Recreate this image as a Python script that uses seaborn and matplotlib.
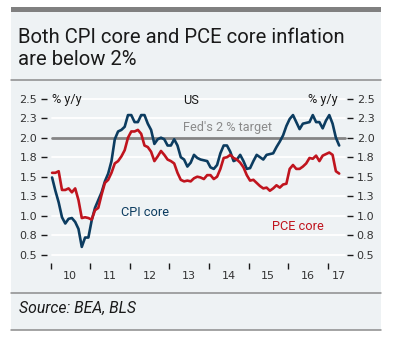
import numpy as np
import pandas as pd
import matplotlib
matplotlib.use("Agg")
import matplotlib.pyplot as plt
import seaborn as sns

# ---- data (monthly, Jan 2010 - Apr 2017) ----
start_month = "2010-01"
cpi_core = [1.49, 1.32, 1.17, 0.98, 0.90, 0.96, 0.97, 0.92, 0.83, 0.60, 0.72, 0.72,
            0.94, 1.10, 1.20, 1.30, 1.44, 1.54, 1.70, 1.98, 2.08, 2.10, 2.14, 2.29,
            2.29, 2.20, 2.20, 2.29, 2.29, 2.18, 2.10, 1.92, 1.98, 2.00, 1.98, 1.90,
            1.90, 1.98, 1.90, 1.75, 1.72, 1.63, 1.68, 1.78, 1.74, 1.72, 1.71, 1.70,
            1.62, 1.60, 1.65, 1.80, 1.90, 1.90, 1.82, 1.70, 1.72, 1.78, 1.70, 1.60,
            1.61, 1.70, 1.78, 1.75, 1.72, 1.78, 1.79, 1.80, 1.88, 1.95, 2.03, 2.15,
            2.24, 2.29, 2.20, 2.11, 2.18, 2.19, 2.20, 2.29, 2.20, 2.20, 2.12, 2.22,
            2.29, 2.18, 2.00, 1.90]
pce_core = [1.55, 1.55, 1.57, 1.33, 1.33, 1.35, 1.30, 1.35, 1.20, 0.97, 0.98, 0.97,
            0.95, 1.07, 1.10, 1.27, 1.42, 1.46, 1.55, 1.67, 1.70, 1.76, 1.84, 2.00,
            2.08, 2.08, 2.10, 2.05, 1.90, 1.88, 1.82, 1.70, 1.76, 1.83, 1.78, 1.72,
            1.70, 1.67, 1.55, 1.46, 1.44, 1.45, 1.44, 1.48, 1.50, 1.49, 1.47, 1.52,
            1.52, 1.47, 1.50, 1.60, 1.74, 1.75, 1.78, 1.74, 1.72, 1.68, 1.62, 1.52,
            1.45, 1.46, 1.42, 1.38, 1.35, 1.36, 1.32, 1.35, 1.39, 1.36, 1.40, 1.41,
            1.60, 1.65, 1.60, 1.60, 1.63, 1.67, 1.74, 1.73, 1.77, 1.70, 1.77, 1.79,
            1.81, 1.78, 1.57, 1.54]
target = 2.0
ytick_vals = [0.5, 0.75, 1.0, 1.25, 1.5, 1.75, 2.0, 2.25, 2.5]
ytick_labels = ["0.5", "0.8", "1.0", "1.3", "1.5", "1.8", "2.0", "2.3", "2.5"]
year_labels = ["10", "11", "12", "13", "14", "15", "16", "17"]
years = [2010, 2011, 2012, 2013, 2014, 2015, 2016, 2017]

title = "Both CPI core and PCE core inflation\nare below 2%"
source = "Source: BEA, BLS"

# ---- styling ----
BG = "#eef2f4"
NAVY = "#0c3c60"
RED = "#c0141e"
GREY = "#858585"
TXT = "#1a1a1a"

sns.set_theme(style="white")
plt.rcParams["font.family"] = ["Roboto", "DejaVu Sans"]

W, H = 397, 340
fig = plt.figure(figsize=(W / 100, H / 100), dpi=100)
fig.patch.set_facecolor("white")

def px(x, y):
    return x / W, 1 - y / H

from matplotlib.patches import Rectangle
fig.patches.append(Rectangle(px(11, 330), (381 - 11) / W, (330 - 12) / H,
                             transform=fig.transFigure, facecolor=BG, edgecolor="none", zorder=-5))
fig.patches.append(Rectangle(px(11, 12), (381 - 11) / W, 5 / H,
                             transform=fig.transFigure, facecolor="#808080", edgecolor="none", zorder=-4))
for yy in (80, 293, 330):
    fig.lines.append(plt.Line2D([11 / W, 381 / W], [1 - yy / H] * 2, transform=fig.transFigure,
                                color="#8c8c8c", lw=1.1, zorder=-4))

fig.text(18 / W, 1 - 48.5 / H, title, fontsize=14.6, color=TXT, ha="left", va="center",
         linespacing=1.2)
fig.text(19 / W, 1 - 308 / H, source, fontsize=11.3, style="italic", color=TXT,
         ha="left", va="center")

# axes
left, right, top, bottom = 47, 347, 92, 263
ax = fig.add_axes([left / W, 1 - bottom / H, (right - left) / W, (bottom - top) / H])
ax.set_facecolor("none")
ax.set_zorder(5)

px_per_year = 39.6
x0_px = 50.5  # pixel of 2010.0
xmin = 2010 + (left - x0_px) / px_per_year
xmax = 2010 + (right - x0_px) / px_per_year
px_per_unit = 78.0
y2_px = 137.7
ymax = 2.0 + (y2_px - top) / px_per_unit
ymin = 2.0 - (bottom - y2_px) / px_per_unit

dates = pd.date_range(start_month, periods=len(cpi_core), freq="MS")
t = dates.year + (dates.month - 1) / 12 + 0.04
df = pd.DataFrame({"t": np.concatenate([t, t]),
                   "v": cpi_core + pce_core,
                   "s": ["CPI core"] * len(cpi_core) + ["PCE core"] * len(pce_core)})

# gridlines (inset from axes edges)
g0 = (52 - left) / (right - left)
g1 = (345 - left) / (right - left)
for v in ytick_vals:
    if v != target:
        ax.axhline(v, xmin=g0, xmax=g1, color="white", lw=1.3, zorder=1)
ax.axhline(target, xmin=g0, xmax=g1, color=GREY, lw=2.0, zorder=2)

sns.lineplot(data=df, x="t", y="v", hue="s", palette={"CPI core": NAVY, "PCE core": RED},
             linewidth=1.9, legend=False, ax=ax, zorder=3)

ax.set_xlim(xmin, xmax)
ax.set_ylim(ymin, ymax)
ax.set_xlabel("")
ax.set_ylabel("")
for s in ax.spines.values():
    s.set_visible(False)

TICKFONT = "DejaVu Sans"
ax.set_yticks(ytick_vals)
ax.set_yticklabels(ytick_labels, fontfamily=TICKFONT)
ax.tick_params(axis="y", which="major", left=True, right=True, labelleft=True, labelright=True,
               direction="out", length=4, width=1, color=TXT, pad=3, labelsize=8,
               labelcolor="#333333")
for lab in ax.get_yticklabels(which="both") + ax.yaxis.get_ticklabels():
    lab.set_fontfamily(TICKFONT)
for tk in ax.yaxis.get_major_ticks():
    tk.label2.set_fontfamily(TICKFONT)

ax.set_xticks(years)
ax.set_xticklabels([])
ax.set_xticks([y + 0.5 for y in years[:-1]] + [2017.28], minor=True)
ax.set_xticklabels(year_labels, minor=True, fontfamily=TICKFONT)
ax.tick_params(axis="x", which="major", bottom=True, direction="out", length=4, width=1,
               color=TXT)
ax.tick_params(axis="x", which="minor", bottom=False, length=0, pad=6, labelsize=8,
               labelcolor="#333333")

def axf(xp, yp):
    return (xp - left) / (right - left), (bottom - yp) / (bottom - top)

fs_in = 9.2
ax.text(*axf(52, 99), "% y/y", transform=ax.transAxes, fontsize=fs_in, color=TXT,
        ha="left", va="center")
ax.text(*axf(338, 99), "% y/y", transform=ax.transAxes, fontsize=fs_in, color=TXT,
        ha="right", va="center")
ax.text(*axf(183, 100), "US", transform=ax.transAxes, fontsize=fs_in, color=TXT,
        ha="left", va="center")
ax.text(*axf(183, 127), "Fed's 2 % target", transform=ax.transAxes, fontsize=fs_in,
        color="#8a8a8a", ha="left", va="center")
ax.text(*axf(121, 212), "CPI core", transform=ax.transAxes, fontsize=fs_in, color=NAVY,
        ha="left", va="center")
ax.text(*axf(272, 227), "PCE core", transform=ax.transAxes, fontsize=fs_in, color=RED,
        ha="left", va="center")

fig.savefig("out.png", dpi=100, facecolor="white")
